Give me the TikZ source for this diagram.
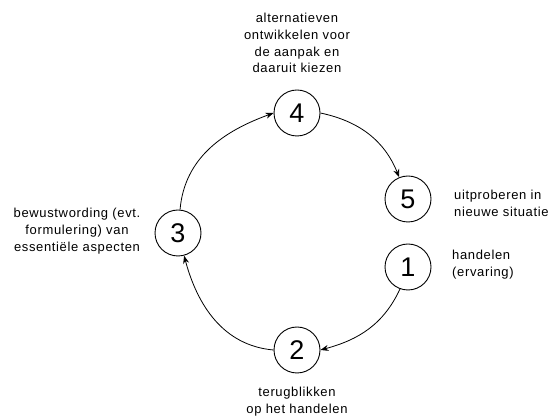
\documentclass[tikz,border=0pt]{standalone}
\usepackage{fontspec}
\setmainfont{Liberation Sans}
\newfontfamily\lblfont{Liberation Sans}[LetterSpace=5]
\usetikzlibrary{arrows.meta}
\begin{document}
\begin{tikzpicture}[x=1pt,y=1pt,
  stepcircle/.style={draw,line width=0.9pt,circle,minimum size=46pt,inner sep=0pt,font=\fontsize{27}{27}\selectfont},
  lbl/.style={font=\lblfont\fontsize{13}{16.8}\selectfont,align=center,inner sep=0pt},
  conn/.style={line width=0.8pt,-{Stealth[length=8pt,width=6pt]}}]
\useasboundingbox (0,0) rectangle (549,420);
\node[stepcircle] (n4) at (297,307) {4};
\node[stepcircle] (n5) at (408,221) {5};
\node[stepcircle] (n1) at (408,153) {1};
\node[stepcircle] (n2) at (297,70) {2};
\node[stepcircle] (n3) at (178,187) {3};
\node[lbl] (t4) at (297,377) {alternatieven\\ontwikkelen voor\\de aanpak en\\daaruit kiezen};
\node[lbl,anchor=west,align=left] (t5) at (454,217) {uitproberen in\\nieuwe situatie};
\node[lbl,anchor=west,align=left] (t1) at (452,155) {handelen\\(ervaring)};
\node[lbl] (t3) at (77,189) {bewustwording (evt.\\formulering) van\\essentiële aspecten};
\node[lbl] (t2) at (297,18) {terugblikken\\op het handelen};
\draw[conn] (n3.85) to[out=85,in=200] (n4.west);
\draw[conn] (n4.east) to[out=-12,in=112] (n5.112);
\draw[conn] (n1.250) to[out=245,in=15] (n2.east);
\draw[conn] (n2.west) to[out=175,in=-75] (n3.-75);
\end{tikzpicture}
\end{document}
